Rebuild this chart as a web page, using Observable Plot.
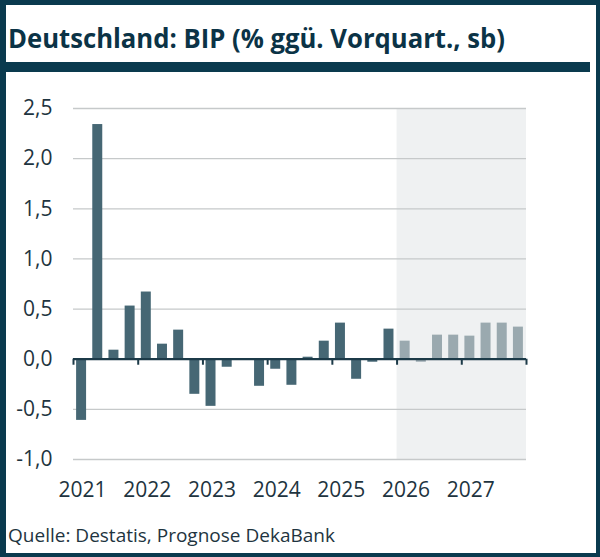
<!DOCTYPE html>
<html><head><meta charset="utf-8">
<script src="https://cdn.jsdelivr.net/npm/d3@7"></script>
<script src="https://cdn.jsdelivr.net/npm/@observablehq/plot@0.6"></script>
<style>
html,body{margin:0;padding:0;background:#fff;}
#frame{position:relative;width:600px;height:557px;box-sizing:border-box;border-style:solid;border-color:#0a3a4e;border-width:5px 4px 4px 6px;background:#fff;overflow:hidden;font-family:"Open Sans",sans-serif;}
#title{position:absolute;left:2px;top:20px;font-size:26px;line-height:1;font-weight:700;color:#0b3346;white-space:nowrap;transform-origin:0 0;}
#rule{position:absolute;left:0;top:57px;width:584px;height:10px;background:#0a3a4e;}
#chart{position:absolute;left:0;top:85px;}
#caption{position:absolute;left:2px;top:521px;font-size:18.5px;line-height:1;color:#1e3440;white-space:nowrap;transform-origin:0 0;}
</style>
</head><body>
<div id="frame">
  <div id="title">Deutschland: BIP (% ggü. Vorquart., sb)</div>
  <div id="rule"></div>
  <div id="chart"></div>
  <div id="caption">Quelle: Destatis, Prognose DekaBank</div>
</div>
<script>
const periods = [
  "2021 Q1","2021 Q2","2021 Q3","2021 Q4",
  "2022 Q1","2022 Q2","2022 Q3","2022 Q4",
  "2023 Q1","2023 Q2","2023 Q3","2023 Q4",
  "2024 Q1","2024 Q2","2024 Q3","2024 Q4",
  "2025 Q1","2025 Q2","2025 Q3","2025 Q4",
  "2026 Q1","2026 Q2","2026 Q3","2026 Q4",
  "2027 Q1","2027 Q2","2027 Q3","2027 Q4"
];
const gdp = [
  -0.61, 2.34, 0.09, 0.53,
  0.67, 0.15, 0.29, -0.35,
  -0.47, -0.08, 0.00, -0.27,
  -0.10, -0.26, 0.02, 0.18,
  0.36, -0.20, -0.03, 0.30,
  0.18, -0.03, 0.24, 0.24,
  0.23, 0.36, 0.36, 0.32
];
const forecastFrom = 2026;
const yearTicks = [2021, 2022, 2023, 2024, 2025, 2026, 2027];
const yearEdges = [2021, 2022, 2023, 2024, 2025, 2026, 2027, 2028];
const yTicks = [-1.0, -0.5, 0.0, 0.5, 1.0, 1.5, 2.0, 2.5];

const table = periods.map((p, i) => {
  const year = +p.slice(0, 4);
  const q = +p.slice(6);
  const start = year + (q - 1) / 4;
  return {period: p, start, end: start + 0.25, value: gdp[i], forecast: year >= forecastFrom};
});
const fmt = d => d.toFixed(1).replace(".", ",");
const yMin = d3.min(yTicks), yMax = d3.max(yTicks);
const xMin = d3.min(yearEdges), xMax = d3.max(yearEdges);

const chart = Plot.plot({
  width: 590,
  height: 420,
  marginLeft: 67,
  marginRight: 70,
  marginTop: 18,
  marginBottom: 51,
  style: {fontFamily: "'Open Sans', sans-serif", fontSize: "21px", color: "#1e3440", background: "transparent", overflow: "visible"},
  x: {domain: [xMin, xMax], label: null},
  y: {domain: [yMin, yMax], label: null},
  marks: [
    Plot.rect([{x1: forecastFrom, x2: xMax}], {x1: "x1", x2: "x2", y1: yMin, y2: yMax, fill: "#eff1f2"}),
    Plot.ruleY(yTicks.filter(d => d !== 0), {stroke: "#c6c9ca", strokeWidth: 1.3}),
    Plot.rectY(table.filter(d => !d.forecast), {x1: "start", x2: "end", y: "value", fill: "#466774", insetLeft: 3.1, insetRight: 3.1}),
    Plot.rectY(table.filter(d => d.forecast), {x1: "start", x2: "end", y: "value", fill: "#9aa9af", insetLeft: 3.1, insetRight: 3.1}),
    Plot.ruleY([0], {stroke: "#1c3a48", strokeWidth: 2.2}),
    Plot.ruleX(yearEdges, {x: d => d, y1: 0, y2: -0.06, stroke: "#1c3a48", strokeWidth: 2}),
    Plot.axisY(yTicks, {tickSize: 0, tickPadding: 21, tickFormat: fmt}),
    Plot.axisX(yearTicks, {tickSize: 0, tickPadding: 23, tickFormat: d => String(d), dx: 9})
  ]
});
document.getElementById("chart").appendChild(chart);

function fit(id, target) {
  const el = document.getElementById(id);
  const w = el.getBoundingClientRect().width;
  el.style.transform = `scaleX(${target / w})`;
}
fit("title", 497);
fit("caption", 327);
</script>
</body></html>
